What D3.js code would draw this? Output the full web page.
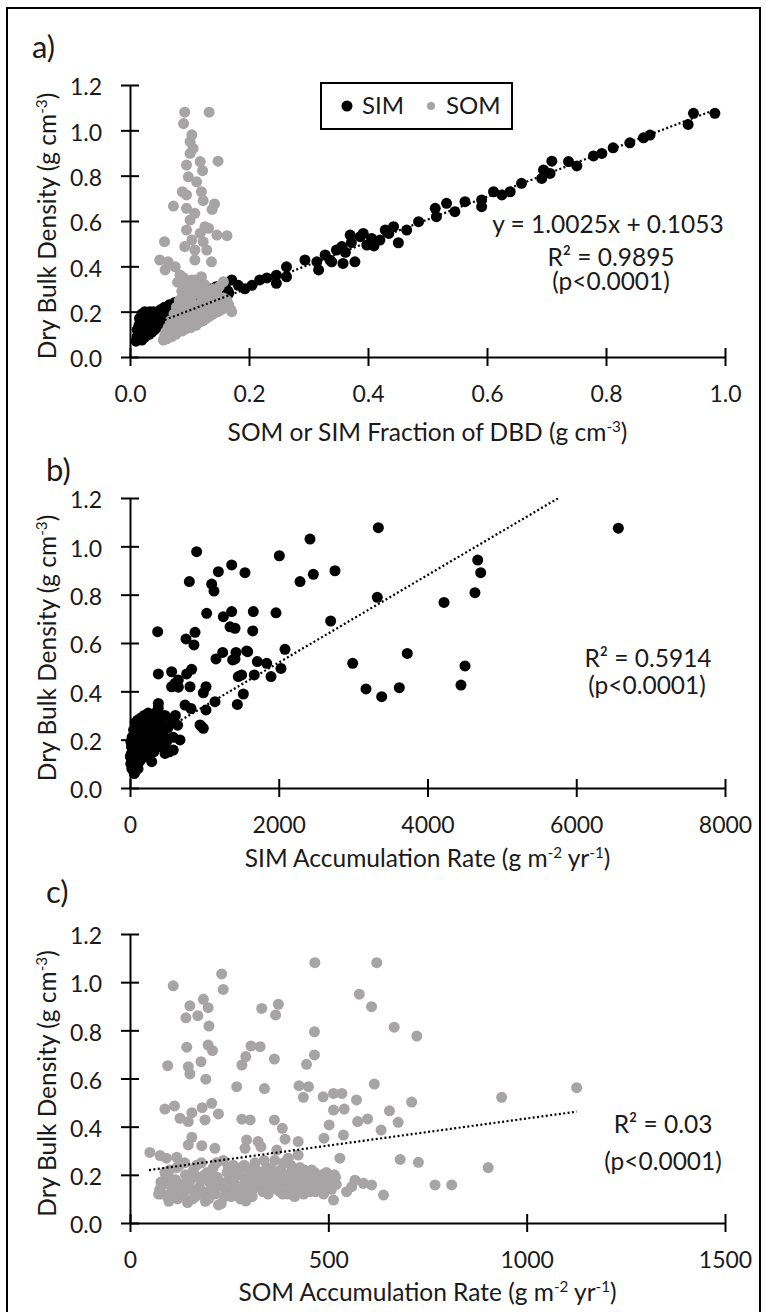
<!DOCTYPE html>
<html>
<head>
<meta charset="utf-8">
<script src="https://cdn.jsdelivr.net/npm/d3@7"></script>
<style>
  body { margin: 0; background: #fff; }
  svg { display: block; font-family: Lato, 'Open Sans', sans-serif; }
</style>
</head>
<body>
<div id="wrapper"></div>
<script>
/* DATA */
// panel a: [fraction of DBD, DBD]
const simFrac = [
  [0.010,0.07],[0.012,0.09],[0.012,0.12],[0.014,0.08],[0.015,0.10],[0.015,0.14],[0.016,0.17],[0.017,0.11],
  [0.018,0.09],[0.018,0.13],[0.019,0.16],[0.020,0.19],[0.020,0.075],[0.021,0.12],[0.022,0.10],[0.022,0.15],
  [0.023,0.18],[0.024,0.085],[0.025,0.20],[0.025,0.13],[0.026,0.11],[0.027,0.16],[0.028,0.095],[0.029,0.19],
  [0.030,0.14],[0.030,0.12],[0.031,0.17],[0.032,0.10],[0.033,0.20],[0.034,0.15],[0.035,0.13],[0.036,0.18],
  [0.037,0.11],[0.038,0.16],[0.039,0.20],[0.040,0.14],[0.041,0.12],[0.042,0.19],[0.043,0.17],[0.044,0.15],
  [0.045,0.13],[0.046,0.20],[0.047,0.18],[0.048,0.16],[0.050,0.14],[0.051,0.19],[0.052,0.21],[0.054,0.17],
  [0.056,0.20],[0.058,0.22],[0.060,0.19],[0.063,0.21],[0.066,0.23],[0.070,0.22],[0.075,0.24],[0.080,0.23],
  [0.085,0.25],[0.090,0.24],[0.095,0.26],[0.100,0.25],[0.105,0.27],[0.110,0.26],[0.115,0.28],[0.120,0.27],
  [0.125,0.29],[0.130,0.28],[0.135,0.30],[0.140,0.29],[0.145,0.31],[0.150,0.30],[0.155,0.27],[0.160,0.32],
  [0.165,0.29],[0.171,0.340],[0.166,0.281],[0.182,0.316],[0.193,0.301],[0.205,0.316],[0.218,0.340],
  [0.230,0.349],[0.246,0.325],[0.246,0.361],[0.263,0.398],[0.263,0.354],[0.294,0.428],[0.314,0.420],
  [0.317,0.384],[0.328,0.450],[0.339,0.420],[0.347,0.472],[0.356,0.487],[0.336,0.428],[0.358,0.413],
  [0.362,0.462],[0.370,0.538],[0.372,0.505],[0.378,0.420],[0.387,0.531],[0.392,0.545],[0.398,0.494],
  [0.406,0.523],[0.410,0.490],[0.420,0.516],[0.429,0.560],[0.435,0.545],[0.443,0.575],[0.451,0.504],
  [0.465,0.560],[0.485,0.597],[0.513,0.656],[0.515,0.619],[0.532,0.678],[0.546,0.641],[0.563,0.685],
  [0.591,0.693],[0.591,0.663],[0.611,0.729],[0.625,0.715],[0.639,0.729],[0.658,0.766],[0.692,0.788],
  [0.695,0.825],[0.706,0.810],[0.709,0.864],[0.737,0.862],[0.751,0.843],[0.779,0.887],[0.793,0.898],
  [0.812,0.923],[0.840,0.945],[0.863,0.967],[0.874,0.979],[0.938,1.026],[0.947,1.075],[0.983,1.075]
];
const somFrac = [
  [0.092,1.08],[0.133,1.08],[0.090,1.03],[0.104,0.98],[0.101,0.95],[0.106,0.92],[0.101,0.898],[0.148,0.864],
  [0.118,0.862],[0.095,0.847],[0.122,0.822],[0.098,0.795],[0.112,0.773],[0.088,0.729],[0.120,0.729],
  [0.095,0.715],[0.073,0.666],[0.095,0.656],[0.123,0.690],[0.142,0.675],[0.138,0.651],[0.109,0.634],
  [0.101,0.604],[0.126,0.575],[0.132,0.568],[0.095,0.560],[0.118,0.546],[0.146,0.538],[0.163,0.535],
  [0.058,0.509],[0.104,0.516],[0.123,0.509],[0.092,0.487],[0.109,0.472],[0.129,0.472],[0.050,0.428],
  [0.064,0.420],[0.076,0.398],[0.109,0.428],[0.137,0.420],[0.059,0.384],[0.084,0.362],[0.104,0.340],
  [0.120,0.354],[0.157,0.332],[0.080,0.33],[0.090,0.35],[0.110,0.34],[0.125,0.32],[0.140,0.30],[0.150,0.31],
  [0.056,0.075],[0.058,0.09],[0.060,0.11],[0.062,0.08],[0.064,0.13],[0.066,0.10],[0.068,0.16],[0.070,0.09],
  [0.072,0.12],[0.074,0.19],[0.075,0.14],[0.077,0.10],[0.078,0.22],[0.080,0.11],[0.081,0.17],[0.083,0.25],
  [0.084,0.13],[0.086,0.20],[0.087,0.29],[0.088,0.115],[0.090,0.15],[0.091,0.23],[0.092,0.32],[0.094,0.125],
  [0.095,0.18],[0.096,0.27],[0.098,0.14],[0.099,0.21],[0.100,0.30],[0.102,0.13],[0.103,0.165],[0.104,0.24],
  [0.106,0.33],[0.107,0.15],[0.108,0.20],[0.110,0.28],[0.111,0.14],[0.113,0.17],[0.114,0.23],[0.116,0.31],
  [0.118,0.155],[0.119,0.19],[0.121,0.26],[0.123,0.16],[0.124,0.21],[0.126,0.29],[0.128,0.17],[0.130,0.23],
  [0.132,0.27],[0.134,0.18],[0.136,0.21],[0.138,0.25],[0.140,0.19],[0.143,0.22],[0.146,0.28],[0.148,0.20],
  [0.151,0.24],[0.154,0.21],[0.157,0.26],[0.160,0.22],[0.163,0.25],[0.166,0.23],[0.169,0.21],[0.171,0.20]
];
// panel b: [SIM accumulation rate, DBD]
const simRate = [
  [3339,1.077],[2420,1.030],[896,0.978],[2008,0.961],[1367,0.923],[1188,0.895],[1546,0.891],[798,0.854],
  [1098,0.844],[1129,0.815],[2286,0.854],[2465,0.884],[2756,0.899],[3325,0.789],[1031,0.723],[1255,0.709],
  [1367,0.730],[1658,0.730],[1963,0.725],[1345,0.667],[1412,0.661],[1650,0.650],[2698,0.691],[372,0.647],
  [874,0.644],[753,0.617],[860,0.592],[2084,0.574],[1246,0.561],[1425,0.561],[1569,0.567],[1156,0.534],
  [1412,0.534],[1712,0.523],[1838,0.516],[2030,0.495],[2994,0.516],[3728,0.557],[381,0.472],[560,0.481],
  [762,0.472],[829,0.491],[650,0.447],[560,0.419],[807,0.419],[1456,0.461],[1501,0.468],[1671,0.468],
  [1896,0.461],[1022,0.419],[986,0.394],[1524,0.389],[3173,0.410],[3384,0.378],[3621,0.415],[1443,0.346],
  [1143,0.357],[740,0.343],[820,0.329],[1022,0.323],[941,0.261],[986,0.247],[381,0.350],[672,0.199],
  [6566,1.075],[4675,0.943],[4715,0.891],[4638,0.808],[4222,0.768],[4504,0.505],[4450,0.426],[964,0.254],
  [582,0.157],[471,0.143],[292,0.109],[67,0.068],[605,0.433],[650,0.417],[1380,0.53],[1582,0.564],
  [10,0.10],[15,0.14],[20,0.12],[20,0.17],[25,0.08],[30,0.11],[35,0.15],[40,0.19],[45,0.13],[50,0.07],
  [55,0.10],[60,0.22],[65,0.16],[70,0.12],[75,0.18],[80,0.25],[85,0.09],[90,0.14],[95,0.20],[100,0.28],
  [105,0.11],[110,0.17],[115,0.23],[120,0.13],[125,0.26],[130,0.19],[135,0.15],[140,0.21],[145,0.29],
  [150,0.12],[155,0.18],[160,0.24],[165,0.16],[170,0.27],[175,0.20],[180,0.14],[185,0.22],[190,0.30],
  [195,0.17],[200,0.25],[205,0.19],[210,0.13],[215,0.23],[220,0.28],[225,0.16],[230,0.21],[235,0.26],
  [240,0.18],[245,0.31],[250,0.14],[255,0.24],[260,0.20],[265,0.27],[270,0.17],[280,0.22],[290,0.29],
  [300,0.19],[310,0.25],[320,0.15],[330,0.23],[340,0.31],[350,0.20],[360,0.27],[370,0.18],[380,0.33],
  [390,0.24],[400,0.21],[410,0.29],[420,0.17],[430,0.26],[450,0.22],[470,0.30],[490,0.19],[510,0.25],
  [530,0.15],[550,0.28],[580,0.21],[610,0.30],[640,0.26],[5,0.13],[12,0.19],[28,0.21],[38,0.09],[48,0.24],
  [58,0.06],[68,0.27],[88,0.10],[108,0.08],[128,0.11]
];
// panel c: [SOM accumulation rate, DBD]
const somRate = [
  [466,1.081],[622,1.081],[231,1.034],[235,0.970],[109,0.985],[578,0.950],[609,0.898],[185,0.929],
  [151,0.902],[197,0.894],[141,0.852],[171,0.861],[199,0.818],[332,0.891],[374,0.908],[367,0.864],
  [465,0.794],[666,0.813],[723,0.776],[143,0.730],[197,0.739],[208,0.716],[305,0.735],[328,0.732],
  [95,0.653],[147,0.649],[151,0.619],[179,0.670],[191,0.597],[292,0.691],[282,0.656],[364,0.681],
  [445,0.659],[465,0.698],[269,0.566],[339,0.558],[426,0.570],[450,0.566],[437,0.522],[616,0.577],
  [487,0.524],[513,0.538],[534,0.538],[571,0.511],[710,0.502],[513,0.469],[540,0.473],[88,0.473],
  [112,0.486],[182,0.479],[206,0.497],[156,0.458],[223,0.453],[126,0.435],[147,0.421],[189,0.428],
  [282,0.431],[303,0.428],[364,0.428],[384,0.393],[502,0.407],[574,0.421],[599,0.432],[654,0.466],
  [676,0.418],[633,0.386],[538,0.365],[489,0.352],[391,0.348],[424,0.338],[156,0.356],[147,0.324],
  [181,0.321],[294,0.345],[323,0.338],[330,0.317],[214,0.310],[50,0.293],[76,0.280],[92,0.269],
  [118,0.273],[529,0.269],[681,0.264],[727,0.252],[399,0.269],[424,0.282],[370,0.303],[290,0.310],
  [513,0.095],[639,0.116],[546,0.130],[567,0.178],[588,0.165],[609,0.158],[559,0.151],[292,0.091],
  [223,0.075],[1126,0.562],[937,0.522],[903,0.230],[769,0.158],[811,0.158],
  [75,0.14],[80,0.12],[85,0.16],[90,0.19],[95,0.11],[100,0.22],[105,0.15],[110,0.13],[115,0.18],
  [120,0.10],[125,0.24],[130,0.16],[135,0.12],[140,0.20],[145,0.085],[150,0.17],[155,0.14],[160,0.22],
  [165,0.11],[170,0.19],[175,0.15],[180,0.25],[185,0.13],[190,0.09],[195,0.21],[200,0.17],[205,0.14],
  [210,0.23],[215,0.12],[220,0.19],[225,0.16],[230,0.08],[235,0.26],[240,0.14],[245,0.21],[250,0.18],
  [255,0.11],[260,0.24],[265,0.16],[270,0.13],[275,0.20],[280,0.23],[285,0.15],[290,0.18],[295,0.12],
  [300,0.22],[305,0.17],[310,0.14],[315,0.25],[320,0.19],[325,0.16],[330,0.21],[335,0.13],[340,0.18],
  [345,0.23],[350,0.15],[355,0.20],[360,0.17],[365,0.26],[370,0.14],[375,0.19],[380,0.22],[385,0.12],
  [390,0.17],[395,0.20],[400,0.15],[405,0.24],[410,0.18],[415,0.11],[420,0.21],[425,0.16],[430,0.19],
  [435,0.14],[440,0.22],[445,0.17],[450,0.20],[455,0.13],[460,0.18],[465,0.21],[470,0.16],[475,0.19],
  [480,0.14],[485,0.20],[490,0.17],[495,0.21],[500,0.15],[505,0.19],[510,0.18],[515,0.20],[520,0.16],
  [100,0.12],[140,0.16],[180,0.18],[220,0.15],[260,0.19],[300,0.16],[340,0.15],[380,0.17],[420,0.13],[460,0.15],
  [72,0.12],[78,0.17],[88,0.21],[98,0.09],[108,0.18],[118,0.23],[128,0.13],[138,0.25],[148,0.19],[158,0.10],
  [168,0.24],[178,0.12],[188,0.20],[198,0.10],[208,0.19],[218,0.25],[228,0.17],[238,0.11],[248,0.23],
  [258,0.14],[268,0.21],[278,0.10],[288,0.24],[298,0.19],[308,0.11],[318,0.22],[328,0.17],[338,0.26],
  [348,0.12],[358,0.22],[368,0.15],[378,0.13],[388,0.25],[398,0.12],[408,0.21],[418,0.17],[428,0.23],
  [438,0.12],[448,0.15],[458,0.22],[468,0.13],[478,0.17],[488,0.12],[498,0.18],[508,0.14],[518,0.19]
];

const yTicks = [0, 0.2, 0.4, 0.6, 0.8, 1.0, 1.2];
const xTicksA = [0, 0.2, 0.4, 0.6, 0.8, 1.0];
const xTicksB = [0, 2000, 4000, 6000, 8000];
const xTicksC = [0, 500, 1000, 1500];

// trendlines: [slope, intercept], x range
const trendA = [1.0025, 0.1053], trendRangeA = [0.01, 0.983];
const trendB = [0.000181, 0.157], trendRangeB = [20, 6566];
const trendC = [0.000225, 0.209], trendRangeC = [48, 1126];

const legendItems = ['SIM', 'SOM'];

/* CHART DIMENSIONS */
const width = 766;
const height = 1312;
const plotLeft = 130;
const plotRight = 725;
const black = '#000';
const gray = '#a6a4a4';
const textColor = '#1a1a1a';
const tickFont = 23;
const titleFont = 24.5;
const noteFont = 24.5;

const panels = [
  {
    label: 'a)', labelX: 32, labelY: 58, top: 85, bottom: 357,
    xDomain: [0, 1], xTicks: xTicksA, xFormat: d3.format('.1f'),
    series: [{ data: simFrac, color: black }, { data: somFrac, color: gray }],
    trend: trendA, trendRange: trendRangeA,
    xTitle: [['SOM or SIM Fraction of DBD (g cm', 0], ['-3', 1], [')', 0]], xTitleY: 441,
    notes: [
      { text: 'y = 1.0025x + 0.1053', x: 608, y: 233 },
      { text: 'R² = 0.9895', x: 611, y: 266 },
      { text: '(p<0.0001)', x: 611, y: 290 },
    ],
  },
  {
    label: 'b)', labelX: 46, labelY: 481, top: 498, bottom: 788,
    xDomain: [0, 8000], xTicks: xTicksB, xFormat: d3.format('d'),
    series: [{ data: simRate, color: black }],
    trend: trendB, trendRange: trendRangeB,
    xTitle: [['SIM Accumulation Rate (g m', 0], ['-2', 1], [' yr', 0], ['-1', 1], [')', 0]], xTitleY: 867,
    notes: [
      { text: 'R² = 0.5914', x: 648, y: 667 },
      { text: '(p<0.0001)', x: 647, y: 694 },
    ],
  },
  {
    label: 'c)', labelX: 46, labelY: 903, top: 934, bottom: 1223,
    xDomain: [0, 1500], xTicks: xTicksC, xFormat: d3.format('d'),
    series: [{ data: somRate, color: gray }],
    trend: trendC, trendRange: trendRangeC,
    xTitle: [['SOM Accumulation Rate (g m', 0], ['-2', 1], [' yr', 0], ['-1', 1], [')', 0]], xTitleY: 1301,
    notes: [
      { text: 'R² = 0.03', x: 663, y: 1133 },
      { text: '(p<0.0001)', x: 663, y: 1170 },
    ],
  },
];

const yTitle = [['Dry Bulk Density (g cm', 0], ['-3', 1], [')', 0]];

/* DRAW */
const svg = d3.select('#wrapper')
  .append('svg')
  .attr('width', width)
  .attr('height', height);

svg.append('rect')
  .attr('width', width).attr('height', height)
  .attr('fill', '#fff');

svg.append('rect')
  .attr('x', 7).attr('y', 8)
  .attr('width', 753).attr('height', 1320)
  .attr('fill', 'none')
  .attr('stroke', '#000')
  .attr('stroke-width', 2);

// text with superscript parts; the raise is undone on the next part
function addRichText(sel, parts, size) {
  const rise = size * 0.38;
  let raised = false;
  parts.forEach(([t, sup]) => {
    let dy = 0;
    if (sup && !raised) dy = -rise;
    if (!sup && raised) dy = rise;
    raised = !!sup;
    sel.append('tspan')
      .attr('font-size', sup ? size * 0.62 : size)
      .attr('dy', dy)
      .text(t);
  });
}

panels.forEach((p, i) => {
  const xScale = d3.scaleLinear().domain(p.xDomain).range([plotLeft, plotRight]);
  const yScale = d3.scaleLinear().domain([0, 1.2]).range([p.bottom, p.top]);
  const g = svg.append('g');

  // panel label
  g.append('text')
    .attr('x', p.labelX).attr('y', p.labelY)
    .attr('font-size', 31)
    .attr('fill', textColor)
    .text(p.label);

  // axes
  const xAxis = d3.axisBottom(xScale)
    .tickValues(p.xTicks)
    .tickFormat(p.xFormat)
    .tickSizeInner(9)
    .tickSizeOuter(0)
    .tickPadding(20);
  const xg = g.append('g')
    .attr('transform', `translate(0,${p.bottom})`)
    .call(xAxis);
  xg.selectAll('.tick line').attr('y1', -9);

  const yAxis = d3.axisLeft(yScale)
    .tickValues(yTicks)
    .tickFormat(d3.format('.1f'))
    .tickSizeInner(9)
    .tickSizeOuter(0)
    .tickPadding(19);
  const yg = g.append('g')
    .attr('transform', `translate(${plotLeft},0)`)
    .call(yAxis);
  yg.selectAll('.tick line').attr('x1', 9);
  yg.selectAll('.tick text').attr('dy', '0.42em');

  [xg, yg].forEach(ax => {
    ax.attr('font-family', null).attr('font-size', tickFont);
    ax.selectAll('path, line').attr('stroke', '#000').attr('stroke-width', 2);
    ax.selectAll('text').attr('fill', textColor);
  });

  // axis titles
  const xt = g.append('text')
    .attr('x', (plotLeft + plotRight) / 2)
    .attr('y', p.xTitleY)
    .attr('text-anchor', 'middle')
    .attr('fill', textColor);
  addRichText(xt, p.xTitle, titleFont);

  const yt = g.append('text')
    .attr('text-anchor', 'middle')
    .attr('fill', textColor)
    .attr('transform', `translate(56,${(p.top + p.bottom) / 2 + 5}) rotate(-90)`);
  addRichText(yt, yTitle, titleFont);

  // points
  p.series.forEach(s => {
    g.append('g')
      .selectAll('circle')
      .data(s.data)
      .join('circle')
      .attr('cx', d => xScale(d[0]))
      .attr('cy', d => yScale(d[1]))
      .attr('r', 5.5)
      .attr('fill', s.color);
  });

  // trendline, clipped to the plot area
  const clipId = `clip-${i}`;
  svg.append('clipPath').attr('id', clipId)
    .append('rect')
    .attr('x', plotLeft).attr('y', p.top)
    .attr('width', plotRight - plotLeft).attr('height', p.bottom - p.top);

  const [m, b] = p.trend;
  const trendPts = p.trendRange.map(x => [x, m * x + b]);
  g.append('path')
    .attr('clip-path', `url(#${clipId})`)
    .attr('d', d3.line().x(d => xScale(d[0])).y(d => yScale(d[1]))(trendPts))
    .attr('fill', 'none')
    .attr('stroke', '#000')
    .attr('stroke-width', 2.2)
    .attr('stroke-dasharray', '2,2.4');

  // annotations
  g.selectAll('text.note')
    .data(p.notes)
    .join('text')
    .attr('class', 'note')
    .attr('x', d => d.x).attr('y', d => d.y)
    .attr('text-anchor', 'middle')
    .attr('font-size', noteFont)
    .attr('fill', textColor)
    .text(d => d.text);
});

/* LEGEND */
const legend = svg.append('g');
legend.append('rect')
  .attr('x', 321).attr('y', 83)
  .attr('width', 191).attr('height', 46)
  .attr('fill', '#fff')
  .attr('stroke', '#000')
  .attr('stroke-width', 2);

const legendPos = [{ cx: 347, tx: 362, r: 5.5, color: black }, { cx: 431, tx: 446, r: 4, color: gray }];
legendItems.forEach((name, i) => {
  const lp = legendPos[i];
  legend.append('circle')
    .attr('cx', lp.cx).attr('cy', 106)
    .attr('r', lp.r)
    .attr('fill', lp.color);
  legend.append('text')
    .attr('x', lp.tx).attr('y', 114)
    .attr('font-size', 24)
    .attr('fill', textColor)
    .text(name);
});
</script>
</body>
</html>
